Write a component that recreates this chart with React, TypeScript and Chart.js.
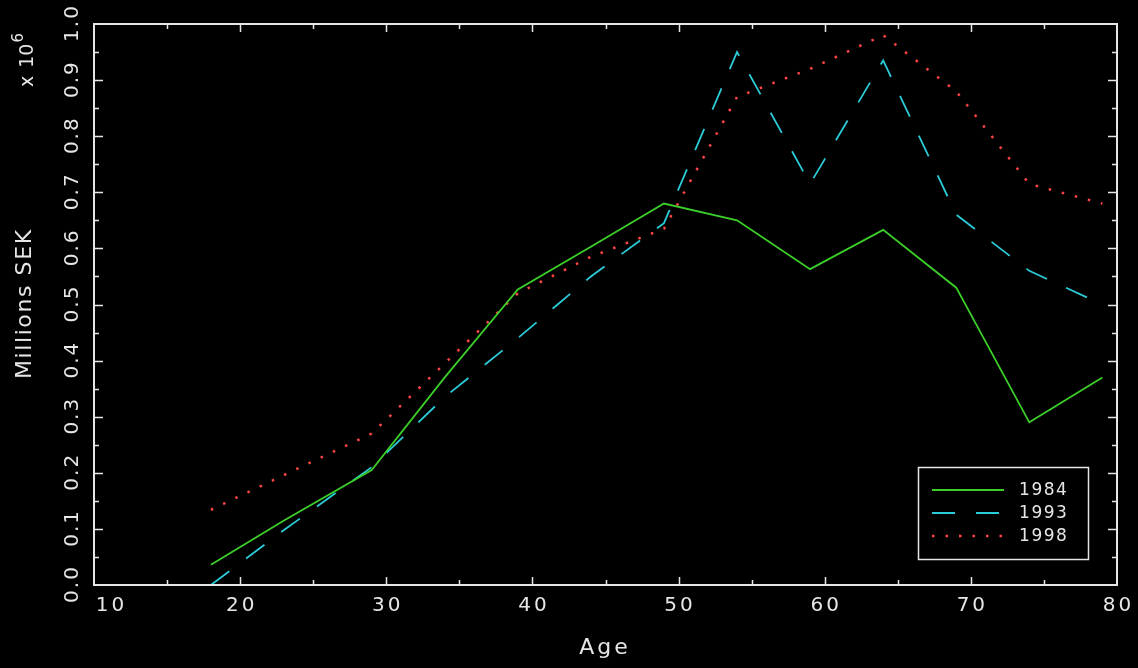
import React, { useEffect, useRef } from "react";
import { Chart, registerables } from "chart.js";

Chart.register(...registerables);

const ages = [18, 23, 29, 34, 39, 44, 49, 54, 59, 64, 69, 74, 79];
const series1984 = [0.036, 0.115, 0.205, 0.37, 0.527, 0.603, 0.68, 0.65, 0.563, 0.633, 0.53, 0.29, 0.37];
const series1993 = [0.0, 0.098, 0.21, 0.335, 0.44, 0.55, 0.645, 0.95, 0.715, 0.935, 0.66, 0.56, 0.5];
const series1998 = [0.134, 0.196, 0.27, 0.395, 0.52, 0.585, 0.635, 0.87, 0.92, 0.98, 0.88, 0.715, 0.68];
const seriesLabels = ["1984", "1993", "1998"];
const xTickLabels = [10, 20, 30, 40, 50, 60, 70, 80];
const yTickLabels = [0, 0.1, 0.2, 0.3, 0.4, 0.5, 0.6, 0.7, 0.8, 0.9, 1.0];

const FG = "#e6e6e6";
const FONT = "DejaVu Sans";

function spacedText(ctx: any, text: string, x: number, y: number, spacing: number) {
  // centered text with extra letter spacing
  const chars = text.split("");
  const widths = chars.map((c) => ctx.measureText(c).width);
  const total = widths.reduce((a, b) => a + b, 0) + spacing * (chars.length - 1);
  let cx = x - total / 2;
  const prevAlign = ctx.textAlign;
  ctx.textAlign = "left";
  chars.forEach((c, i) => {
    ctx.fillText(c, cx, y);
    cx += widths[i] + spacing;
  });
  ctx.textAlign = prevAlign;
}

const framePlugin = {
  id: "frame",
  afterDraw(chart: any) {
    const { ctx, chartArea } = chart;
    const xs = chart.scales.x;
    const ys = chart.scales.y;
    const { left, right, top, bottom } = chartArea;
    ctx.save();
    ctx.strokeStyle = FG;
    ctx.fillStyle = FG;
    ctx.lineWidth = 2;
    ctx.setLineDash([]);
    ctx.strokeRect(left, top, right - left, bottom - top);

    // x tick marks every 5
    ctx.lineWidth = 1.5;
    for (let v = 15; v < 80; v += 5) {
      const px = Math.round(xs.getPixelForValue(v)) + 0.5;
      const len = v % 10 === 0 ? 8 : 5;
      ctx.beginPath();
      ctx.moveTo(px, bottom);
      ctx.lineTo(px, bottom - len);
      ctx.moveTo(px, top);
      ctx.lineTo(px, top + len);
      ctx.stroke();
    }
    // y tick marks every 0.05
    for (let i = 1; i < 20; i++) {
      const v = i * 0.05;
      const py = Math.round(ys.getPixelForValue(v)) + 0.5;
      const len = i % 2 === 0 ? 9 : 5;
      ctx.beginPath();
      ctx.moveTo(left, py);
      ctx.lineTo(left + len, py);
      ctx.moveTo(right, py);
      ctx.lineTo(right - len, py);
      ctx.stroke();
    }

    // x tick labels
    ctx.font = `20px "${FONT}"`;
    ctx.textAlign = "center";
    ctx.textBaseline = "middle";
    xTickLabels.forEach((v, i) => {
      let px = xs.getPixelForValue(v);
      if (i === 0) px += 16;
      spacedText(ctx, String(v), px, 606, 3);
    });

    // y tick labels rotated
    yTickLabels.forEach((v) => {
      const py = ys.getPixelForValue(v);
      ctx.save();
      ctx.translate(73, py);
      ctx.rotate(-Math.PI / 2);
      spacedText(ctx, v.toFixed(1), 0, 0, 2);
      ctx.restore();
    });

    // axis titles
    ctx.font = `22px "${FONT}"`;
    spacedText(ctx, "Age", (left + right) / 2 - 2, 648, 3);
    ctx.save();
    ctx.translate(25, (top + bottom) / 2);
    ctx.rotate(-Math.PI / 2);
    spacedText(ctx, "Millions SEK", 0, 0, 1.6);
    ctx.restore();

    // x 10^6
    ctx.save();
    ctx.translate(33, 87);
    ctx.rotate(-Math.PI / 2);
    ctx.textAlign = "left";
    ctx.textBaseline = "alphabetic";
    ctx.font = `19px "${FONT}"`;
    ctx.fillText("x", 0, 0);
    const wx = ctx.measureText("x ").width + 2;
    ctx.fillText("10", wx, 0);
    const w = wx + ctx.measureText("10").width;
    ctx.font = `15px "${FONT}"`;
    ctx.fillText("6", w + 1, -10);
    ctx.restore();

    // legend
    const bx = 918, by = 467, bw = 170, bh = 92;
    ctx.lineWidth = 1.5;
    ctx.strokeRect(bx + 0.5, by + 0.5, bw, bh);
    ctx.font = `17px "${FONT}"`;
    ctx.textAlign = "left";
    ctx.textBaseline = "middle";
    chart.data.datasets.forEach((ds: any, i: number) => {
      const ly = 490 + i * 23;
      ctx.save();
      ctx.strokeStyle = ds.borderColor;
      ctx.lineWidth = ds.borderWidth;
      ctx.setLineDash(ds.borderDash || []);
      ctx.beginPath();
      ctx.moveTo(932, ly);
      ctx.lineTo(1004, ly);
      ctx.stroke();
      ctx.restore();
      ctx.fillStyle = FG;
      ctx.save();
      ctx.textAlign = "center";
      spacedText(ctx, ds.label, 1043, ly + 1, 1.5);
      ctx.restore();
    });
    ctx.restore();
  },
};

export default function App() {
  const ref = useRef<HTMLCanvasElement>(null);
  useEffect(() => {
    if (!ref.current) return;
    const chart = new Chart(ref.current, {
      type: "line",
      data: {
        datasets: [
          {
            label: seriesLabels[0],
            data: ages.map((a, i) => ({ x: a, y: series1984[i] })),
            borderColor: "#3ccf2a",
            borderWidth: 1.8,
            pointRadius: 0,
            tension: 0,
          },
          {
            label: seriesLabels[1],
            data: ages.map((a, i) => ({ x: a, y: series1993[i] })),
            borderColor: "#2ccbd8",
            borderWidth: 1.8,
            borderDash: [23, 21],
            pointRadius: 0,
            tension: 0,
          },
          {
            label: seriesLabels[2],
            data: ages.map((a, i) => ({ x: a, y: series1998[i] })),
            borderColor: "#ff4545",
            borderWidth: 2.5,
            borderDash: [2.5, 11],
            pointRadius: 0,
            tension: 0,
          },
        ],
      },
      options: {
        animation: false,
        responsive: true,
        maintainAspectRatio: false,
        layout: { padding: { left: 0, top: 24, right: 21, bottom: 0 } },
        plugins: { legend: { display: false }, tooltip: { enabled: false } },
        scales: {
          x: {
            type: "linear",
            min: 10,
            max: 80,
            ticks: { display: false },
            grid: { display: false },
            border: { display: false },
            afterFit: (s: any) => {
              s.height = 83;
            },
          },
          y: {
            type: "linear",
            min: 0,
            max: 1,
            ticks: { display: false },
            grid: { display: false },
            border: { display: false },
            afterFit: (s: any) => {
              s.width = 94;
            },
          },
        },
      },
      plugins: [framePlugin],
    });
    return () => chart.destroy();
  }, []);
  return (
    <div style={{ position: "fixed", left: 0, top: 0, width: 1138, height: 668, background: "#000" }}>
      <canvas ref={ref} />
    </div>
  );
}
